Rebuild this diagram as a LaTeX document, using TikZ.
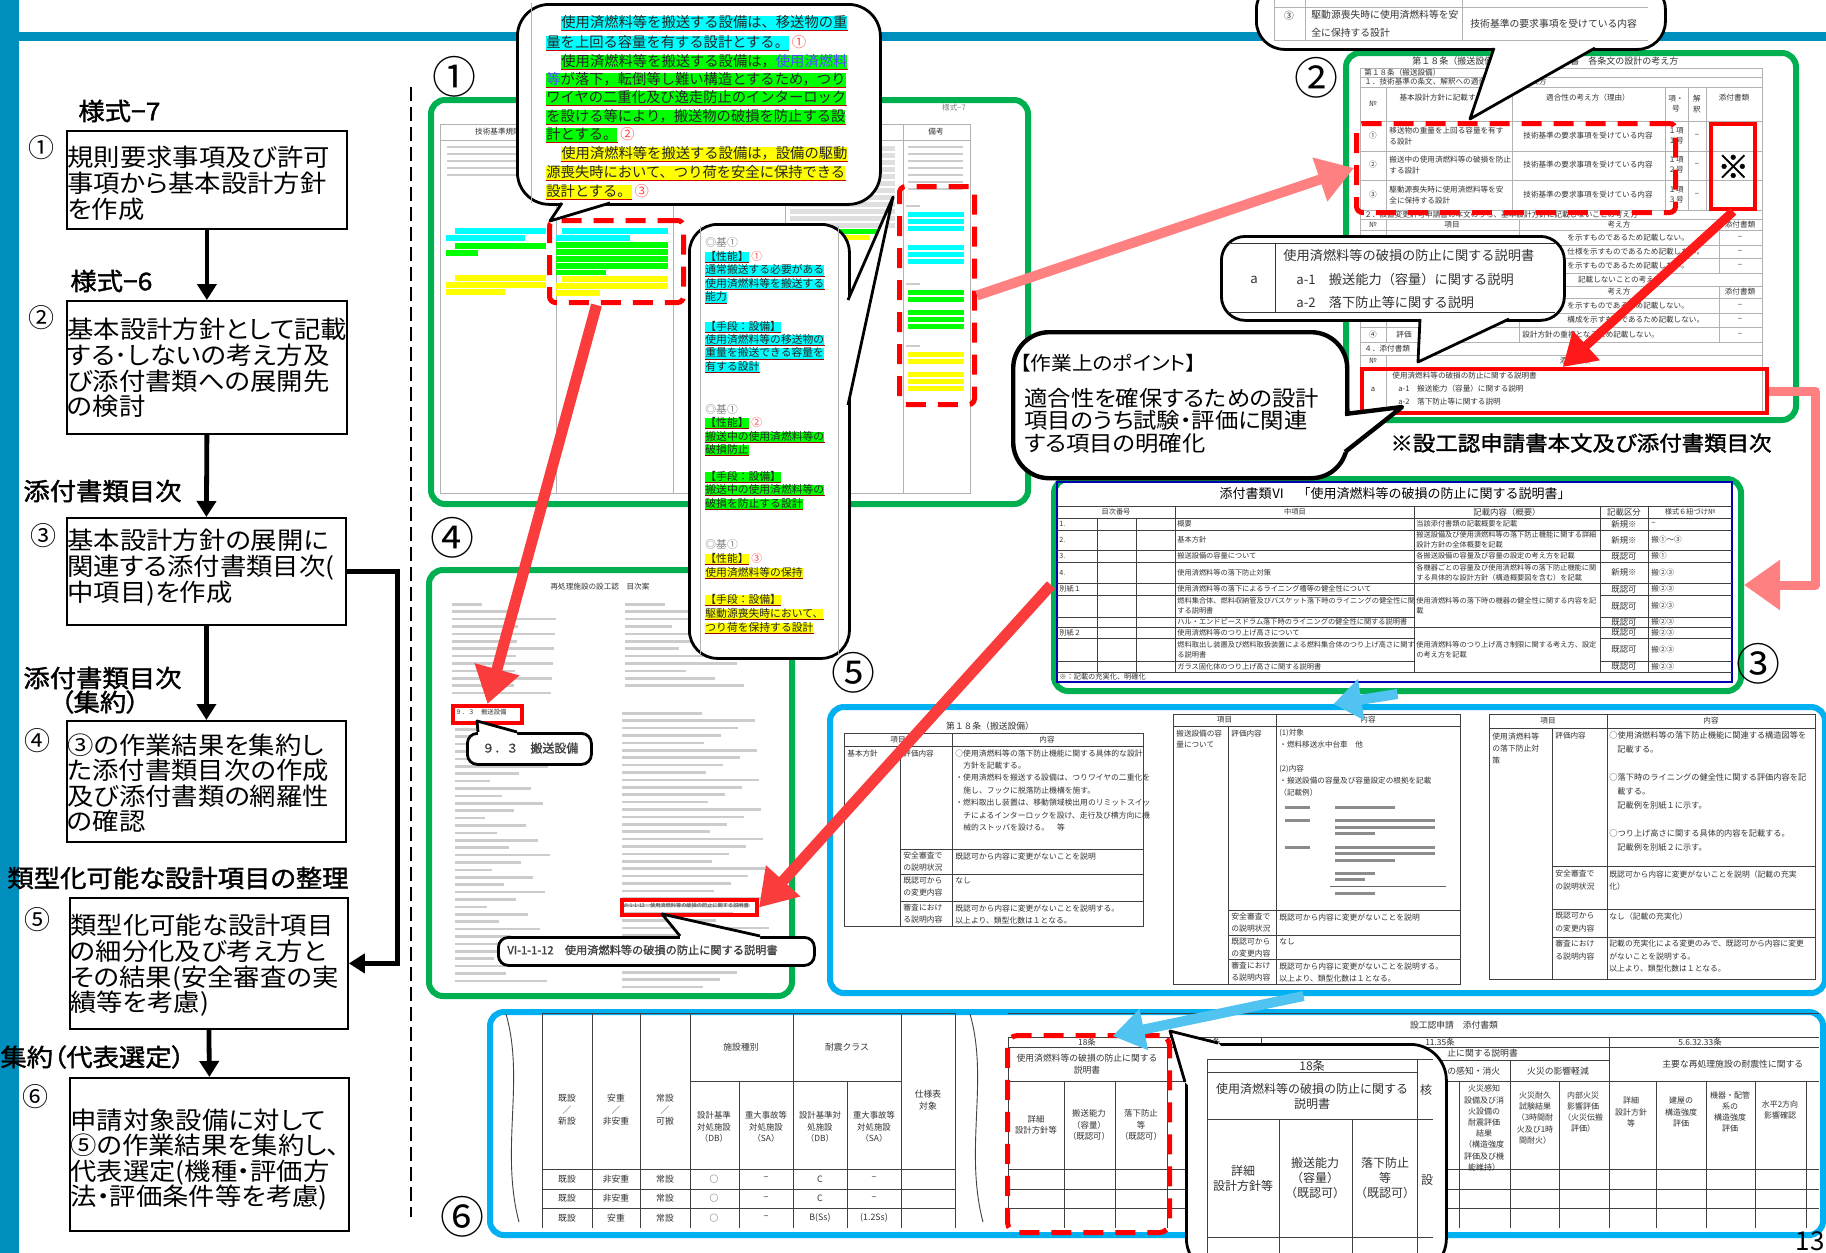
\documentclass[tikz,border=0pt]{standalone}
\usepackage{fontspec}
\usepackage{xcolor}
\usepackage{tikz}
\usetikzlibrary{arrows.meta,positioning,calc}
\setmainfont{Noto Sans CJK JP}
\newfontfamily\jp{Noto Sans CJK JP}
\newfontfamily\jpw[FakeStretch=1.08,RawFeature=+palt]{Noto Sans CJK JP}
\newfontfamily\jpb[FakeStretch=1.08,FakeBold=1.5,RawFeature=+palt]{Noto Sans CJK JP}
\newfontfamily\jpbn[FakeBold=1.2]{Noto Sans CJK JP}
\XeTeXlinebreaklocale "ja"
\XeTeXlinebreakskip=0pt plus 0.5pt
\newcommand\fs[2]{\fontsize{#1}{#2}\selectfont}
% 吹き出しの尾
\newcommand\calltail[5][1.4pt]{%
  \fill[white] ($#2+#5$) -- #2 -- #3 -- #4 -- ($#4+#5$) -- cycle;
  \draw[line width=#1, line join=round] #2 -- #3 -- #4;}
\definecolor{barblue}{RGB}{0,142,188}
\definecolor{fgreen}{RGB}{0,176,80}
\definecolor{fcyan}{RGB}{0,176,240}
\definecolor{hcyan}{RGB}{0,255,255}
\definecolor{hgreen}{RGB}{0,255,0}
\definecolor{hyell}{RGB}{255,255,0}
\definecolor{arred}{RGB}{250,60,60}
\definecolor{arpink}{RGB}{255,128,128}
\definecolor{arcyan}{RGB}{80,195,240}
\begin{document}
\begin{tikzpicture}[x=0.5pt, y=-0.5pt,
  stepbox/.style={draw, line width=0.9pt, anchor=north west, inner sep=0pt},
  steptext/.style={anchor=north west, inner sep=0pt, align=left, font=\jpw\fs{12.2}{12.8}},
  steplbl/.style={anchor=west, inner sep=0pt, font=\jpb\fs{12.2}{12.8}},
  stepnum/.style={inner sep=0pt, font=\jp\fs{13}{13}},
  flow/.style={line width=2.4pt, -{Triangle[length=8pt,width=9.5pt]}},
  pnum/.style={inner sep=0pt, font=\jp\fs{22}{22}},
  panel/.style={anchor=north west, inner sep=0pt, line width=3pt, rounded corners=7pt},
  docline/.style={draw=gray!60, line width=0.4pt},
  tline/.style={draw=black!75, line width=0.45pt},
  rdash/.style={draw=red, line width=2.5pt, dash pattern=on 10pt off 6pt, rounded corners=3pt, anchor=north west, inner sep=0pt},
  rbox/.style={draw=red, line width=2.2pt, anchor=north west, inner sep=0pt},
  bubble/.style={draw=black, line width=1.4pt, fill=white, rounded corners=12pt, anchor=north west, inner sep=0pt},
  tinytxt/.style={inner sep=0pt, font=\jp\fs{3.8}{5.2}, text=black!80},
  hl/.style={anchor=west, inner sep=0pt, fill=#1, text height=5.6pt, text depth=1.3pt, font=\jp\fs{7.15}{8}, text=black!85},
  hs/.style={anchor=west, inner sep=0pt, fill=#1, text height=4.3pt, text depth=1pt, font=\jp\fs{5.4}{6}, text=black!85},
  uline/.style={draw=red!80!black, line width=0.5pt},
  bigarrow/.style={line width=#1, line join=round, -{Triangle[length=18pt,width=22pt]}},
]
% 背景
\useasboundingbox (0,0) rectangle (1826,1253);
\fill[white] (0,0) rectangle (1826,1253);
\fill[barblue] (0,0) rectangle (19,1253);
\fill[barblue] (19,32) rectangle (1826,41);

% 左側フロー
\node[stepbox, minimum width=140pt, minimum height=49pt] (s1) at (66,130) {};
\node[stepbox, minimum width=140pt, minimum height=66.5pt] (s2) at (66,300) {};
\node[stepbox, minimum width=139.5pt, minimum height=53.5pt] (s3) at (66,517) {};
\node[stepbox, minimum width=139.5pt, minimum height=60.5pt] (s4) at (66,720) {};
\node[stepbox, minimum width=139pt, minimum height=65.5pt] (s5) at (69,897) {};
\node[stepbox, minimum width=139.5pt, minimum height=76.5pt] (s6) at (69,1077) {};
\node[steptext] (s1t) at ([shift={(1,16)}]s1.north west) {規則要求事項及び許可\\事項から基本設計方針\\を作成};
\node[steptext] (s2t) at ([shift={(1,18)}]s2.north west) {基本設計方針として記載\\する･しないの考え方及\\び添付書類への展開先\\の検討};
\node[steptext] (s3t) at ([shift={(1,12)}]s3.north west) {基本設計方針の展開に\\関連する添付書類目次(\\中項目)を作成};
\node[steptext] (s4t) at ([shift={(1,13)}]s4.north west) {③の作業結果を集約し\\た添付書類目次の作成\\及び添付書類の網羅性\\の確認};
\node[steptext] (s5t) at ([shift={(1,17)}]s5.north west) {類型化可能な設計項目\\の細分化及び考え方と\\その結果(安全審査の実\\績等を考慮)};
\node[steptext] (s6t) at ([shift={(1,31)}]s6.north west) {申請対象設備に対して\\⑤の作業結果を集約し、\\代表選定(機種・評価方\\法・評価条件等を考慮)};
\node[steplbl] (f7) at (78,111) {様式−7};
\node[steplbl] (f6) at (70,281) {様式−6};
\node[steplbl] (l3) at (23,491) {添付書類目次};
\node[steplbl] (l4) at (23,678) {添付書類目次};
\node[steplbl] (l4b) at (60,702) {（集約）};
\node[steplbl] (l5) at (7,878) {類型化可能な設計項目の整理};
\node[steplbl] (l6) at (0,1057) {集約（代表選定）};
\node[stepnum] (k1) at (41,148) {①};
\node[stepnum] (k2) at (41,318) {②};
\node[stepnum] (k3) at (43,536) {③};
\node[stepnum] (k4) at (38,741) {④};
\node[stepnum] (k5) at (38,920) {⑤};
\node[stepnum] (k6) at (35,1097) {⑥};
\draw[flow] (s1.south) -- (s2.north);
\draw[flow] (s2.south) -- (s3.north);
\draw[flow] (s3.south) -- (s4.north);
\draw[flow] (s5.south) -- (s6.north);
\draw[flow, line join=miter] (s3.east) -- ++(51,0) |- (s5.east);
\draw[line width=1pt, dash pattern=on 7pt off 3pt] (411,87) -- (411,1217);

% ① 様式-7
\node[panel, draw=fgreen, minimum width=298.5pt, minimum height=202pt] (p1) at (428,97) {};
\node[pnum] (n1) at (454,77) {①};
\node[tinytxt, text=gray] (f7d) at (954,108) {様式−7};
\draw[docline] (440,124) rectangle (970,493);
\draw[docline] (440,140) -- (970,140);
\foreach \x in {556,673,785,903} \draw[docline] (\x,124) -- (\x,493);
\node[tinytxt] (h1a) at (498,132) {技術基準規則};
\node[tinytxt] (h1b) at (936,132) {備考};
\foreach \y in {146,153,160,167,174} \fill[gray!40] (447,\y) rectangle ++(92,2.4);
\foreach \y in {146,153,...,188} \fill[gray!40] (908,\y) rectangle ++(55,2.4);
\foreach \y in {146,153,...,226} \fill[gray!25] (790,\y) rectangle ++(105,4.5);
\fill[hcyan] (455,228) rectangle ++(91,5.5); \fill[hcyan] (446,235) rectangle ++(79,5.5);
\fill[hgreen] (455,243) rectangle ++(91,5.5); \fill[hgreen] (446,250) rectangle ++(32,5.5);
\fill[hyell] (455,275) rectangle ++(91,5.5); \fill[hyell] (446,282) rectangle ++(100,5.5);
\fill[hyell] (446,289) rectangle ++(59,5.5);
\fill[hcyan] (562,228) rectangle ++(106,5.5); \fill[hcyan] (556,235) rectangle ++(74,5.5);
\foreach \y in {242,249,256,263} \fill[hgreen] (556,\y) rectangle ++(112,5.5);
\fill[hgreen] (556,270) rectangle ++(50,4.5);
\fill[hyell] (562,276) rectangle ++(106,5.5); \fill[hyell] (556,283) rectangle ++(112,5.5);
\fill[hyell] (556,290) rectangle ++(44,5.5);
\fill[hgreen] (830,229) rectangle ++(50,5); \fill[hyell] (840,235) rectangle ++(30,5);
\foreach \y in {205,283,345} \fill[gray!40] (906,\y) rectangle ++(14,2.4);
\foreach \y in {212,219,226,245,252,259} \fill[hcyan] (908,\y) rectangle ++(56,5);
\foreach \y in {290,297,310,317,324} \fill[hgreen] (908,\y) rectangle ++(56,5);
\foreach \y in {352,359,372,379,386} \fill[hyell] (908,\y) rectangle ++(56,5);
\node[rdash, minimum width=67pt, minimum height=41pt] (r1) at (547,218) {};
\node[rdash, minimum width=37.5pt, minimum height=109pt] (r2) at (897,184) {};

% ② 各条文の設計の考え方
\node[panel, draw=fgreen, minimum width=225pt, minimum height=183.5pt] (p2) at (1343,50) {};
\node[pnum] (n2) at (1316,78) {②};
\node[tinytxt, anchor=west, font=\jp\fs{4.5}{5}] (t2a) at (1412,61) {第１８条（搬送設備）};
\node[tinytxt, anchor=west, font=\jp\fs{4.5}{5}] (t2b) at (1552,61) {申請書　各条文の設計の考え方};
\draw[docline] (1360,68) rectangle (1762,411);
\foreach \y in {77,87,121,151,180,210,219,230,245,258,273,286,298,313,327,342,355,367}
  \draw[docline] (1360,\y) -- (1762,\y);
\foreach \x in {1386,1512,1665,1688,1706} \draw[docline] (\x,87) -- (\x,210);
\foreach \x in {1386,1519,1719} {\draw[docline] (\x,219) -- (\x,273); \draw[docline] (\x,286) -- (\x,342);}
\draw[docline] (1386,355) -- (1386,411);
\node[tinytxt, anchor=west] (t2c) at (1364,72.5) {第１８条（搬送設備）};
\node[tinytxt, anchor=west] (t2d) at (1364,82) {１．技術基準の条文、解釈への適合性に関する考え方};
\node[tinytxt] (t2e) at (1373,104) {№};
\node[tinytxt] (t2f) at (1449,98) {基本設計方針に記載する事項};
\node[tinytxt] (t2g) at (1588,98) {適合性の考え方（理由）};
\node[tinytxt, align=center] (t2h) at (1676,104) {項・\\号};
\node[tinytxt, align=center] (t2i) at (1697,104) {解\\釈};
\node[tinytxt] (t2j) at (1734,98) {添付書類};
\foreach \y/\n/\a/\b/\g in {136/①/移送物の重量を上回る容量を有す/る設計/１号,
  165/②/搬送中の使用済燃料等の破損を防止/する設計/２号,
  195/③/駆動源喪失時に使用済燃料等を安/全に保持する設計/３号} {
  \node[tinytxt] at (1373,\y) {\n};
  \node[tinytxt, anchor=west, align=left] at (1389,\y) {\a\\\b};
  \node[tinytxt] at (1588,\y) {技術基準の要求事項を受けている内容};
  \node[tinytxt, align=center] at (1676,\y) {１項\\\g};
  \node[tinytxt] at (1697,\y) {−};
}
\node[tinytxt, anchor=west] (t2k) at (1364,214.5) {２．設置変更許可申請書の本文のうち、基本設計方針に記載しないことの考え方};
\node[tinytxt] (t2l) at (1373,224.5) {№};
\node[tinytxt] (t2m) at (1452,224.5) {項目};
\node[tinytxt] (t2n) at (1619,224.5) {考え方};
\node[tinytxt] (t2o) at (1740,224.5) {添付書類};
\node[tinytxt, anchor=west] (t2p) at (1567,237.5) {を示すものであるため記載しない。};
\node[tinytxt, anchor=west] (t2q) at (1567,251.5) {仕様を示すものであるため記載しない。};
\node[tinytxt, anchor=west] (t2r) at (1567,265.5) {を示すものであるため記載しない。};
\node[tinytxt, anchor=east] (t2s) at (1662,279.5) {記載しないことの考え方};
\node[tinytxt] (t2t) at (1619,292) {考え方};
\node[tinytxt] (t2u) at (1740,292) {添付書類};
\node[tinytxt, anchor=west] (t2v) at (1567,305.5) {を示すものであるため記載しない。};
\node[tinytxt, anchor=west] (t2w) at (1567,320) {構成を示すものであるため記載しない。};
\node[tinytxt] (t2x) at (1373,334.5) {④};
\node[tinytxt, anchor=west] (t2y) at (1396,334.5) {評価};
\node[tinytxt, anchor=west] (t2z) at (1522,334.5) {設計方針の重複となるため記載しない。};
\foreach \y in {237.5,251.5,265.5,305.5,320,334.5} \node[tinytxt] at (1740,\y) {−};
\node[tinytxt, anchor=west] (t2aa) at (1364,348.5) {４．添付書類};
\node[tinytxt] (t2ab) at (1373,361) {№};
\node[tinytxt] (t2ac) at (1575,361) {添付書類};
\node[tinytxt] (t2ad) at (1373,389) {a};
\node[tinytxt, anchor=west] (t2ae) at (1392,376) {使用済燃料等の破損の防止に関する説明書};
\node[tinytxt, anchor=west] (t2af) at (1398,389) {a-1　搬送能力（容量）に関する説明};
\node[tinytxt, anchor=west] (t2ag) at (1398,402) {a-2　落下防止等に関する説明};
\node[rdash, minimum width=159.5pt, minimum height=44.5pt] (rd2) at (1354,121) {};
\node[rbox, minimum width=22pt, minimum height=42.5pt, font=\jpbn\fs{16}{16}] (rx) at (1709,122) {※};
\node[rbox, minimum width=202.5pt, minimum height=22pt] (rb) at (1360,367) {};
\node[anchor=west, inner sep=0pt, font=\jpb\fs{10.4}{11}] (note2) at (1390,443) {※設工認申請書本文及び添付書類目次};

% ③ 添付書類目次
\node[panel, draw=fgreen, minimum width=343.5pt, minimum height=106pt] (p3) at (1051,476) {};
\node[pnum] (n3) at (1758,664) {③};
\draw[draw=blue!70!black, line width=0.6pt] (1057,482) rectangle (1732,682);
\foreach \y in {506,518,530,550,562,583,627,672} \draw[tline] (1057,\y) -- (1732,\y);
\foreach \y in {595,617,638,661} {\draw[tline] (1057,\y) -- (1414,\y); \draw[tline] (1600,\y) -- (1732,\y);}
\foreach \x in {1175,1414,1600,1648} \draw[tline] (\x,506) -- (\x,672);
\foreach \x in {1097,1136} \draw[tline] (\x,518) -- (\x,672);
\node[inner sep=0pt, font=\jp\fs{6.5}{7}] (t3) at (1395,494) {添付書類Ⅵ　「使用済燃料等の破損の防止に関する説明書」};
\node[tinytxt, font=\jp\fs{3.6}{5}] (t3a) at (1116,512) {目次番号};
\node[tinytxt, font=\jp\fs{3.6}{5}] (t3b) at (1295,512) {中項目};
\node[tinytxt, font=\jp\fs{4.2}{5}] (t3c) at (1507,512) {記載内容（概要）};
\node[tinytxt, font=\jp\fs{4.2}{5}] (t3d) at (1624,512) {記載区分};
\node[tinytxt, font=\jp\fs{3.6}{5}] (t3e) at (1690,512) {様式６紐づけ№};
\foreach \y/\a/\b/\c/\d/\e in {
  524/1./概要/当該添付書類の記載概要を記載/新規※/−,
  540/2./基本方針/搬送設備及び使用済燃料等の落下防止機能に関する詳細\\設計方針の全体概要を記載/新規※/搬①〜③,
  556/3./搬送設備の容量について/各搬送設備の容量及び容量の設定の考え方を記載/既認可/搬①,
  572.5/4./使用済燃料等の落下防止対策/各機器ごとの容量及び使用済燃料等の落下防止機能に関\\する具体的な設計方針（構造概要図を含む）を記載/新規※/搬②③,
  589/別紙１/使用済燃料等の落下によるライニング槽等の健全性について//既認可/搬②③,
  606//燃料集合体、燃料収納管及びバスケット落下時のライニングの健全性に関\\する説明書//既認可/搬②③,
  622//ハル・エンドピースドラム落下時のライニングの健全性に関する説明書//既認可/搬②③,
  632.5/別紙２/使用済燃料等のつり上げ高さについて//既認可/搬②③,
  649.5//燃料取出し装置及び燃料取扱装置による燃料集合体のつり上げ高さに関す\\る説明書//既認可/搬②③,
  666.5//ガラス固化体のつり上げ高さに関する説明書//既認可/搬②③} {
  \node[tinytxt, anchor=west, font=\jp\fs{3.6}{5}] at (1059,\y) {\a};
  \node[tinytxt, anchor=west, align=left, font=\jp\fs{3.6}{5.2}] at (1177,\y) {\b};
  \node[tinytxt, anchor=west, align=left, font=\jp\fs{3.6}{5.2}] at (1416,\y) {\c};
  \node[tinytxt, font=\jp\fs{4.2}{5}] at (1624,\y) {\d};
  \node[tinytxt, anchor=west, font=\jp\fs{3.8}{5}] at (1651,\y) {\e};
}
\node[tinytxt, anchor=west, align=left, font=\jp\fs{3.6}{5.2}] (t3f) at (1416,606) {使用済燃料等の落下時の機器の健全性に関する内容を記\\載};
\node[tinytxt, anchor=west, align=left, font=\jp\fs{3.6}{5.2}] (t3g) at (1416,649.5) {使用済燃料等のつり上げ高さ制限に関する考え方、設定\\の考え方を記載};
\node[tinytxt, anchor=west, font=\jp\fs{3.6}{5}] (t3h) at (1059,677) {※：記載の充実化、明確化};

% ④ 目次案
\node[panel, draw=fgreen, minimum width=181.5pt, minimum height=213pt] (p4) at (426,567) {};
\node[pnum] (n4) at (452,538) {④};
\node[tinytxt] (t4) at (600,587) {再処理施設の設工認　目次案};
\foreach \i in {0,...,12} {\pgfmathsetmacro\yy{603+7.4*\i}\pgfmathsetmacro\ww{30+mod(\i*37,75)}
  \fill[gray!40] (452,\yy) rectangle ++(\ww,2.6);}
\foreach \i in {0,...,34} {\pgfmathsetmacro\yy{728+7.4*\i}\pgfmathsetmacro\ww{28+mod(\i*41,70)}
  \fill[gray!40] (455,\yy) rectangle ++(\ww,2.6);}
\foreach \i in {0,...,11} {\pgfmathsetmacro\yy{603+7.4*\i}\pgfmathsetmacro\ww{40+mod(\i*29,80)}
  \fill[gray!40] (625,\yy) rectangle ++(\ww,2.6);}
\foreach \i in {0,...,37} {\pgfmathsetmacro\yy{712+7.4*\i}\pgfmathsetmacro\ww{80+mod(\i*53,70)}
  \fill[gray!40] (622,\yy) rectangle ++(\ww,2.6);}
\node[tinytxt, anchor=west, font=\jp\fs{3.2}{4}] (t4a) at (455,712.5) {９．３　搬送設備};
\node[tinytxt, anchor=west, font=\jp\fs{2.6}{3}] (t4b) at (623,905.5) {VI-1-1-12　使用済燃料等の破損の防止に関する説明書};
\node[rbox, line width=2pt, minimum width=34.5pt, minimum height=8.5pt] (r93) at (451,704) {};
\node[rbox, line width=2pt, minimum width=67.5pt, minimum height=7.5pt] (rVI) at (620,898) {};

% ⑤ 類型化
\node[panel, draw=fcyan, minimum width=497.5pt, minimum height=143pt] (p5) at (827,704) {};
\node[pnum] (n5) at (853,673) {⑤};
\node[tinytxt, font=\jp\fs{4.4}{5}] (t5) at (990,726) {第１８条（搬送設備）};
\draw[tline] (844,733) rectangle (1143,926);
\draw[tline] (844,746) -- (1143,746);
\draw[tline] (900,746) -- (900,926);
\draw[tline] (952,733) -- (952,926);
\foreach \y in {849,874,901} \draw[tline] (900,\y) -- (1143,\y);
\node[tinytxt] at (898,739.5) {項目};
\node[tinytxt] at (1047,739.5) {内容};
\node[tinytxt, anchor=north west] at (847,750) {基本方針};
\node[tinytxt, anchor=north west] at (903,750) {評価内容};
\node[tinytxt, anchor=north west, align=left, font=\jp\fs{3.9}{6.2}] (t5a) at (955,749) {○使用済燃料等の落下防止機能に関する具体的な設計\\\hspace*{4pt}方針を記載する。\\・使用済燃料を搬送する設備は、つりワイヤの二重化を\\\hspace*{4pt}施し、フックに脱落防止機構を施す。\\・燃料取出し装置は、移動領域検出用のリミットスイッ\\\hspace*{4pt}チによるインターロックを設け、走行及び横方向に機\\\hspace*{4pt}械的ストッパを設ける。　等};
\foreach \y/\a/\b in {852/安全審査で\\の説明状況/既認可から内容に変更がないことを説明,
  877/既認可から\\の変更内容/なし,
  904/審査におけ\\る説明内容/既認可から内容に変更がないことを説明する。\\以上より、類型化数は１となる。} {
  \node[tinytxt, anchor=north west, align=left, font=\jp\fs{3.9}{6}] at (903,\y) {\a};
  \node[tinytxt, anchor=north west, align=left, font=\jp\fs{3.9}{6}] at (955,\y) {\b};
}
\draw[tline] (1173,714) rectangle (1460,984);
\draw[tline] (1173,726) -- (1460,726);
\draw[tline] (1228,726) -- (1228,984);
\draw[tline] (1276,714) -- (1276,984);
\foreach \y in {910,935,959} \draw[tline] (1228,\y) -- (1460,\y);
\node[tinytxt] at (1224.5,720) {項目};
\node[tinytxt] at (1368,720) {内容};
\node[tinytxt, anchor=north west, align=left] at (1176,730) {搬送設備の容\\量について};
\node[tinytxt, anchor=north west] at (1231,730) {評価内容};
\node[tinytxt, anchor=north west, align=left, font=\jp\fs{3.8}{6}] (t5b) at (1279,729) {(1)対象\\・燃料移送水中台車　他\\[6pt](2)内容\\・搬送設備の容量及び容量設定の根拠を記載\\（記載例）};
\foreach \y/\w in {806/60,819/100,826/100,832/40,846/100,852/100,859/60,872/40,878/30,892/40}
  \fill[black!45] (1335,\y) rectangle ++(\w,2.6);
\foreach \y in {806,819,846} \fill[black!45] (1285,\y) rectangle ++(25,2.6);
\draw[black!60, line width=0.5pt] (1330,886) -- (1446,886);
\foreach \y/\a/\b in {913/安全審査で\\の説明状況/既認可から内容に変更がないことを説明,
  938/既認可から\\の変更内容/なし,
  962/審査におけ\\る説明内容/既認可から内容に変更がないことを説明する。\\以上より、類型化数は１となる。} {
  \node[tinytxt, anchor=north west, align=left, font=\jp\fs{3.9}{6}] at (1231,\y) {\a};
  \node[tinytxt, anchor=north west, align=left, font=\jp\fs{3.9}{6}] at (1279,\y) {\b};
}
\draw[tline] (1489,714) rectangle (1815,979);
\draw[tline] (1489,728) -- (1815,728);
\draw[tline] (1552,728) -- (1552,979);
\draw[tline] (1607,714) -- (1607,979);
\foreach \y in {866,909,937} \draw[tline] (1552,\y) -- (1815,\y);
\node[tinytxt] at (1548,721) {項目};
\node[tinytxt] at (1711,721) {内容};
\node[tinytxt, anchor=north west, align=left, font=\jp\fs{3.9}{6.2}] at (1492,732) {使用済燃料等\\の落下防止対\\策};
\node[tinytxt, anchor=north west] at (1555,732) {評価内容};
\node[tinytxt, anchor=north west, align=left, font=\jp\fs{4.1}{7}] (t5c) at (1609,731) {○使用済燃料等の落下防止機能に関連する構造図等を\\\hspace*{4pt}記載する。\\[7pt]○落下時のライニングの健全性に関する評価内容を記\\\hspace*{4pt}載する。\\\hspace*{4pt}記載例を別紙１に示す。\\[7pt]○つり上げ高さに関する具体的内容を記載する。\\\hspace*{4pt}記載例を別紙２に示す。};
\foreach \y/\a/\b in {870/安全審査で\\の説明状況/既認可から内容に変更がないことを説明（記載の充実\\化）,
  912/既認可から\\の変更内容/なし（記載の充実化）,
  940/審査におけ\\る説明内容/記載の充実化による変更のみで、既認可から内容に変更\\がないことを説明する。\\以上より、類型化数は１となる。} {
  \node[tinytxt, anchor=north west, align=left, font=\jp\fs{3.9}{6.2}] at (1555,\y) {\a};
  \node[tinytxt, anchor=north west, align=left, font=\jp\fs{3.9}{6.2}] at (1609,\y) {\b};
}

% ⑥ 代表選定
\node[panel, draw=fcyan, minimum width=666.5pt, minimum height=111.5pt] (p6) at (487,1009) {};
\node[pnum] (n6) at (462,1217) {⑥};
\draw[tline] (506,1014) .. controls (525,1080) and (500,1150) .. (519,1222);
\draw[tline] (970,1014) .. controls (989,1080) and (964,1150) .. (983,1222);
\foreach \x in {542,592,640,690,793,901,955} \draw[tline] (\x,1013) -- (\x,1228);
\foreach \x in {739,847} \draw[tline] (\x,1081) -- (\x,1228);
\draw[tline] (690,1081) -- (901,1081);
\foreach \y in {1013,1169,1189,1208} \draw[tline] (542,\y) -- (955,\y);
\node[tinytxt, align=center, font=\jp\fs{4.4}{5.8}] at (567,1110) {既設\\／\\新設};
\node[tinytxt, align=center, font=\jp\fs{4.4}{5.8}] at (616,1110) {安重\\／\\非安重};
\node[tinytxt, align=center, font=\jp\fs{4.4}{5.8}] at (665,1110) {常設\\／\\可搬};
\node[tinytxt, font=\jp\fs{4.4}{5.8}] at (741,1047) {施設種別};
\node[tinytxt, font=\jp\fs{4.4}{5.8}] at (847,1047) {耐震クラス};
\node[tinytxt, align=center, font=\jp\fs{4.2}{5.8}] at (714,1127) {設計基準\\対処施設\\（DB）};
\node[tinytxt, align=center, font=\jp\fs{4.2}{5.8}] at (766,1127) {重大事故等\\対処施設\\（SA）};
\node[tinytxt, align=center, font=\jp\fs{4.2}{5.8}] at (820,1127) {設計基準対\\処施設\\（DB）};
\node[tinytxt, align=center, font=\jp\fs{4.2}{5.8}] at (874,1127) {重大事故等\\対処施設\\（SA）};
\node[tinytxt, align=center, font=\jp\fs{4.4}{5.8}] at (928,1100) {仕様表\\対象};
\foreach \y/\c/\d/\e/\f in {1179/非安重/C/−/−, 1198.5/非安重/C/−/−, 1218/安重/B(Ss)/(1.2Ss)/} {
  \node[tinytxt, font=\jp\fs{4.4}{5}] at (567,\y) {既設};
  \node[tinytxt, font=\jp\fs{4.4}{5}] at (616,\y) {\c};
  \node[tinytxt, font=\jp\fs{4.4}{5}] at (665,\y) {常設};
  \node[tinytxt, font=\jp\fs{4.4}{5}] at (714,\y) {○};
  \node[tinytxt, font=\jp\fs{4.4}{5}] at (766,\y) {−};
  \node[tinytxt, font=\jp\fs{4.4}{5}] at (820,\y) {\d};
  \node[tinytxt, font=\jp\fs{4.4}{5}] at (874,\y) {\e};
}
\foreach \y in {1013,1037,1047,1081,1169,1189,1208} \draw[tline] (1008,\y) -- (1819,\y);
\foreach \x in {1008,1167,1609} \draw[tline] (\x,1037) -- (\x,1228);
\draw[tline] (1261,1037) -- (1261,1081);
\foreach \x in {1064,1115,1214,1459,1510,1559,1656,1706,1755,1806} \draw[tline] (\x,1081) -- (\x,1228);
\draw[tline] (1416,1060) -- (1609,1060);
\draw[tline] (1510,1060) -- (1510,1081);
\node[tinytxt, font=\jp\fs{4.4}{5}] at (1454,1025) {設工認申請　添付書類};
\node[tinytxt, font=\jp\fs{4.2}{5}] at (1087,1042) {18条};
\node[tinytxt, font=\jp\fs{4.2}{5}] at (1214,1042) {4条};
\node[tinytxt, font=\jp\fs{4.2}{5}] at (1440,1042) {11.35条};
\node[tinytxt, font=\jp\fs{4.2}{5}] at (1700,1042) {5.6.32.33条};
\node[tinytxt, align=center, font=\jp\fs{4.4}{6}] at (1087,1064) {使用済燃料等の破損の防止に関する\\説明書};
\node[tinytxt, anchor=west, font=\jp\fs{4.4}{5}] at (1447,1053) {止に関する説明書};
\node[tinytxt, anchor=west, font=\jp\fs{4.4}{5}] at (1447,1071) {の感知・消火};
\node[tinytxt, font=\jp\fs{4.4}{5}] at (1558,1071) {火災の影響軽減};
\node[tinytxt, anchor=west, font=\jp\fs{4.4}{5}] at (1662,1064) {主要な再処理施設の耐震性に関する};
\node[tinytxt, align=center, font=\jp\fs{4.2}{5.8}] at (1036,1125) {詳細\\設計方針等};
\node[tinytxt, align=center, font=\jp\fs{4.2}{5.8}] at (1089,1125) {搬送能力\\（容量）\\（既認可）};
\node[tinytxt, align=center, font=\jp\fs{4.2}{5.8}] at (1141,1125) {落下防止\\等\\（既認可）};
\node[tinytxt, align=center, font=\jp\fs{4}{5.6}] at (1484,1128) {火災感知\\設備及び消\\火設備の\\耐震評価\\結果\\（構造強度\\評価及び機\\能維持）};
\node[tinytxt, align=center, font=\jp\fs{4}{5.6}] at (1535,1118) {火災耐久\\試験結果\\（3時間耐\\火及び1時\\間耐火）};
\node[tinytxt, align=center, font=\jp\fs{4}{5.6}] at (1583,1112) {内部火災\\影響評価\\（火災伝搬\\評価）};
\node[tinytxt, align=center, font=\jp\fs{4}{5.6}] at (1631,1112) {詳細\\設計方針\\等};
\node[tinytxt, align=center, font=\jp\fs{4}{5.6}] at (1681,1112) {建屋の\\構造強度\\評価};
\node[tinytxt, align=center, font=\jp\fs{4}{5.6}] at (1730,1112) {機器・配管\\系の\\構造強度\\評価};
\node[tinytxt, align=center, font=\jp\fs{4}{5.6}] at (1780,1110) {水平2方向\\影響確認};
\node[rdash, rounded corners=5pt, minimum width=81pt, minimum height=98.5pt] (rd6) at (1005,1033) {};
\node[anchor=south east, inner sep=0pt, font=\jp\fs{13}{13}] (pg) at (1825,1251) {13};

% 吹き出し
\node[bubble, rounded corners=16pt, minimum width=181.5pt, minimum height=100pt] (c1) at (516,3) {};
\coordinate (t1) at (550,221);
\calltail{(562,203)}{(t1)}{(610,203)}{(0,-5)}
\draw[docline] (531,3) -- (531,203);
\node[hl=hcyan] (l1) at (561,23.3) {使用済燃料等を搬送する設備は、移送物の重};
\node[hl=hcyan] (l2) at (546,42.7) {量を上回る容量を有する設計とする。};
\node[hl=hgreen] (l3) at (561,61.7) {使用済燃料等を搬送する設備は，\textcolor{blue!70}{使用済燃料}};
\node[hl=hgreen] (l4) at (546,80) {\textcolor{blue!70}{等}が落下，転倒等し難い構造とするため，つり};
\node[hl=hgreen] (l5) at (546,98.3) {ワイヤの二重化及び逸走防止のインターロック};
\node[hl=hgreen] (l6) at (546,116.7) {を設ける等により，搬送物の破損を防止する設};
\node[hl=hgreen] (l7) at (546,135) {計とする。};
\node[hl=hyell] (l8) at (561,154) {使用済燃料等を搬送する設備は，設備の駆動};
\node[hl=hyell] (l9) at (546,172.7) {源喪失時において、つり荷を安全に保持できる};
\node[hl=hyell] (l10) at (546,191.7) {設計とする。};
\foreach \n in {l1,l2,l3,l4,l5,l6,l7,l8,l9,l10} \draw[uline] (\n.south west) -- (\n.south east);
\node[hl=white, text=red!70] (m1) at ([xshift=1pt]l2.east) {①};
\node[hl=white, text=red!70] (m2) at ([xshift=1pt]l7.east) {②};
\node[hl=white, text=red!70] (m3) at ([xshift=1pt]l10.east) {③};

\node[bubble, rounded corners=14pt, minimum width=80pt, minimum height=217pt] (c2) at (688,223) {};
\coordinate (t2) at (893,197);
\calltail{(848,300)}{(t2)}{(848,405)}{(-5,0)}
\draw[docline] (700,226) -- (700,654);
\draw[docline] (838,226) -- (838,654);
\foreach \y in {243,410,545} \node[hs=white, text=gray] at (705,\y) {◎基①};
\node[hs=hcyan] (g2) at (705,257) {【性能】};
\node[hs=hcyan] (g3) at (705,270.5) {通常搬送する必要がある};
\node[hs=hcyan] (g4) at (705,284) {使用済燃料等を搬送する};
\node[hs=hcyan] (g5) at (705,297.5) {能力};
\node[hs=hcyan] (g6) at (705,327) {【手段：設備】};
\node[hs=hcyan] (g7) at (705,340) {使用済燃料等の移送物の};
\node[hs=hcyan] (g8) at (705,353.5) {重量を搬送できる容量を};
\node[hs=hcyan] (g9) at (705,367) {有する設計};
\node[hs=hgreen] (g11) at (705,423) {【性能】};
\node[hs=hgreen] (g12) at (705,437) {搬送中の使用済燃料等の};
\node[hs=hgreen] (g13) at (705,450) {破損防止};
\node[hs=hgreen] (g14) at (705,477) {【手段：設備】};
\node[hs=hgreen] (g15) at (705,490) {搬送中の使用済燃料等の};
\node[hs=hgreen] (g16) at (705,504) {破損を防止する設計};
\node[hs=hyell] (g18) at (705,559) {【性能】};
\node[hs=hyell] (g19) at (705,573) {使用済燃料等の保持};
\node[hs=hyell] (g20) at (705,600) {【手段：設備】};
\node[hs=hyell] (g21) at (705,614) {駆動源喪失時において、};
\node[hs=hyell] (g22) at (705,628) {つり荷を保持する設計};
\foreach \n in {g2,g3,g4,g5,g6,g7,g8,g9,g11,g12,g13,g14,g15,g16,g18,g19,g20,g21,g22}
  \draw[red!60!black, line width=0.4pt] (\n.south west) -- (\n.south east);
\node[hs=white, text=red!70] at ([xshift=1pt]g2.east) {①};
\node[hs=white, text=red!70] at ([xshift=1pt]g11.east) {②};
\node[hs=white, text=red!70] at ([xshift=1pt]g18.east) {③};

\node[bubble, rounded corners=14pt, minimum width=204.5pt, minimum height=34pt] (c3) at (1255,-20) {};
\coordinate (t3) at (1470,119);
\calltail{(1494,48)}{(t3)}{(1595,48)}{(0,-5)}
\draw[docline] (1274,7) -- (1648,7);
\draw[docline] (1274,40) -- (1648,40);
\foreach \x in {1274,1305,1462} \draw[docline] (\x,-20) -- (\x,40);
\node[tinytxt, font=\jp\fs{4.9}{9}] (c3a) at (1289,16) {③};
\node[tinytxt, anchor=north west, align=left, font=\jp\fs{4.9}{9}] (c3b) at (1311,10) {駆動源喪失時に使用済燃料等を安\\全に保持する設計};
\node[tinytxt, anchor=west, font=\jp\fs{4.9}{9}] (c3c) at (1470,24) {技術基準の要求事項を受けている内容};

\node[bubble, rounded corners=12pt, minimum width=171.5pt, minimum height=42pt] (c4) at (1220,235) {};
\coordinate (t4) at (1418,362);
\calltail{(1420,319)}{(t4)}{(1509,319)}{(0,-5)}
\draw[black!80, line width=0.5pt] (1228,243) -- (1555,243);
\draw[black!80, line width=0.5pt] (1228,312) -- (1555,312);
\draw[black!80, line width=0.5pt] (1275,243) -- (1275,312);
\node[tinytxt, font=\jp\fs{6.6}{7}] (c4a) at (1254,280) {a};
\node[tinytxt, anchor=west, font=\jp\fs{6.6}{7}] (c4b) at (1283,256) {使用済燃料等の破損の防止に関する説明書};
\node[tinytxt, anchor=west, font=\jp\fs{6.6}{7}] (c4c) at (1296,279) {a-1　搬送能力（容量）に関する説明};
\node[tinytxt, anchor=west, font=\jp\fs{6.6}{7}] (c4d) at (1296,302) {a-2　落下防止等に関する説明};

\node[bubble, line width=2.2pt, rounded corners=18pt, minimum width=167pt, minimum height=73pt] (c5) at (1011,330) {};
\coordinate (t5) at (1402,407);
\calltail[2.2pt]{(1345,414)}{(t5)}{(1345,452)}{(-6,0)}
\node[anchor=west, inner sep=0pt, font=\jpw\fs{9.6}{10}] (c5a) at (1020,363) {【作業上のポイント】};
\node[anchor=north west, inner sep=0pt, align=left, font=\jpw\fs{10.8}{11.2}] (c5b) at (1024,388) {適合性を確保するための設計\\項目のうち試験・評価に関連\\する項目の明確化};

\node[bubble, rounded corners=5pt, minimum width=62pt, minimum height=15.5pt] (c6) at (466,732) {};
\coordinate (t6) at (477,721);
\calltail{(478,732)}{(t6)}{(517,732)}{(0,5)}
\node[anchor=west, inner sep=0pt, font=\jpbn\fs{6}{6}, text=black!75] (c6a) at (482,748) {９．３　搬送設備};

\node[bubble, rounded corners=5pt, minimum width=158pt, minimum height=14pt] (c7) at (497,936) {};
\coordinate (t7) at (662,914);
\calltail{(680,936)}{(t7)}{(760,936)}{(0,5)}
\node[anchor=west, inner sep=0pt, font=\jpbn\fs{5.6}{6}, text=black!75] (c7a) at (507,950) {VI-1-1-12　使用済燃料等の破損の防止に関する説明書};

\node[bubble, rounded corners=18pt, minimum width=130pt, minimum height=115pt] (c8) at (1185,1043) {};
\coordinate (t8) at (1170,1031);
\calltail{(1185,1082)}{(t8)}{(1218,1043)}{(8,8)}
\draw[tline] (1207,1059) -- (1433,1059);
\draw[tline] (1207,1072) -- (1417,1072);
\draw[tline] (1207,1119) -- (1433,1119);
\draw[tline] (1207,1237) -- (1433,1237);
\draw[tline] (1207,1059) -- (1207,1253);
\draw[tline] (1417,1059) -- (1417,1253);
\foreach \x in {1279,1352} \draw[tline] (\x,1119) -- (\x,1253);
\node[tinytxt, font=\jp\fs{6}{7}] (c8a) at (1312,1066) {18条};
\node[tinytxt, align=center, font=\jp\fs{6}{7.5}] (c8b) at (1312,1096) {使用済燃料等の破損の防止に関する\\説明書};
\node[tinytxt, align=center, font=\jp\fs{6}{7.5}] (c8c) at (1243,1178) {詳細\\設計方針等};
\node[tinytxt, align=center, font=\jp\fs{6}{7.5}] (c8d) at (1315,1178) {搬送能力\\（容量）\\（既認可）};
\node[tinytxt, align=center, font=\jp\fs{6}{7.5}] (c8e) at (1385,1178) {落下防止\\等\\（既認可）};
\node[tinytxt, font=\jp\fs{6}{7}] (c8f) at (1426,1090) {核};
\node[tinytxt, font=\jp\fs{6}{7}] (c8g) at (1427,1180) {設};

% 矢印
\draw[arred, bigarrow=5.5pt] ([xshift=-10pt]r1.south) -- (r93.north);
\draw[arred, bigarrow=5.5pt] (p3.west) -- (rVI.east);
\draw[arpink, bigarrow=5pt] (r2.east) -- (rd2.west);
\draw[red!90, line width=4.5pt, -{Triangle[length=16pt,width=19pt]}] (rx.south) -- ([xshift=-1pt]rb.north);
\draw[arpink, line width=4.5pt, line join=round, -{Triangle[length=18pt,width=24pt]}] (rb.east) -- ++(46,0) |- (p3.east);
\draw[arcyan, line width=5pt, -{Triangle[length=14pt,width=20pt]}] (p3.south) -- ([xshift=3pt]p5.north);
\draw[arcyan, line width=5pt, -{Triangle[length=16pt,width=20pt]}] ([xshift=-12pt]p5.south) -- ([xshift=12pt,yshift=-1.5pt]rd6.north);
\end{tikzpicture}
\end{document}
